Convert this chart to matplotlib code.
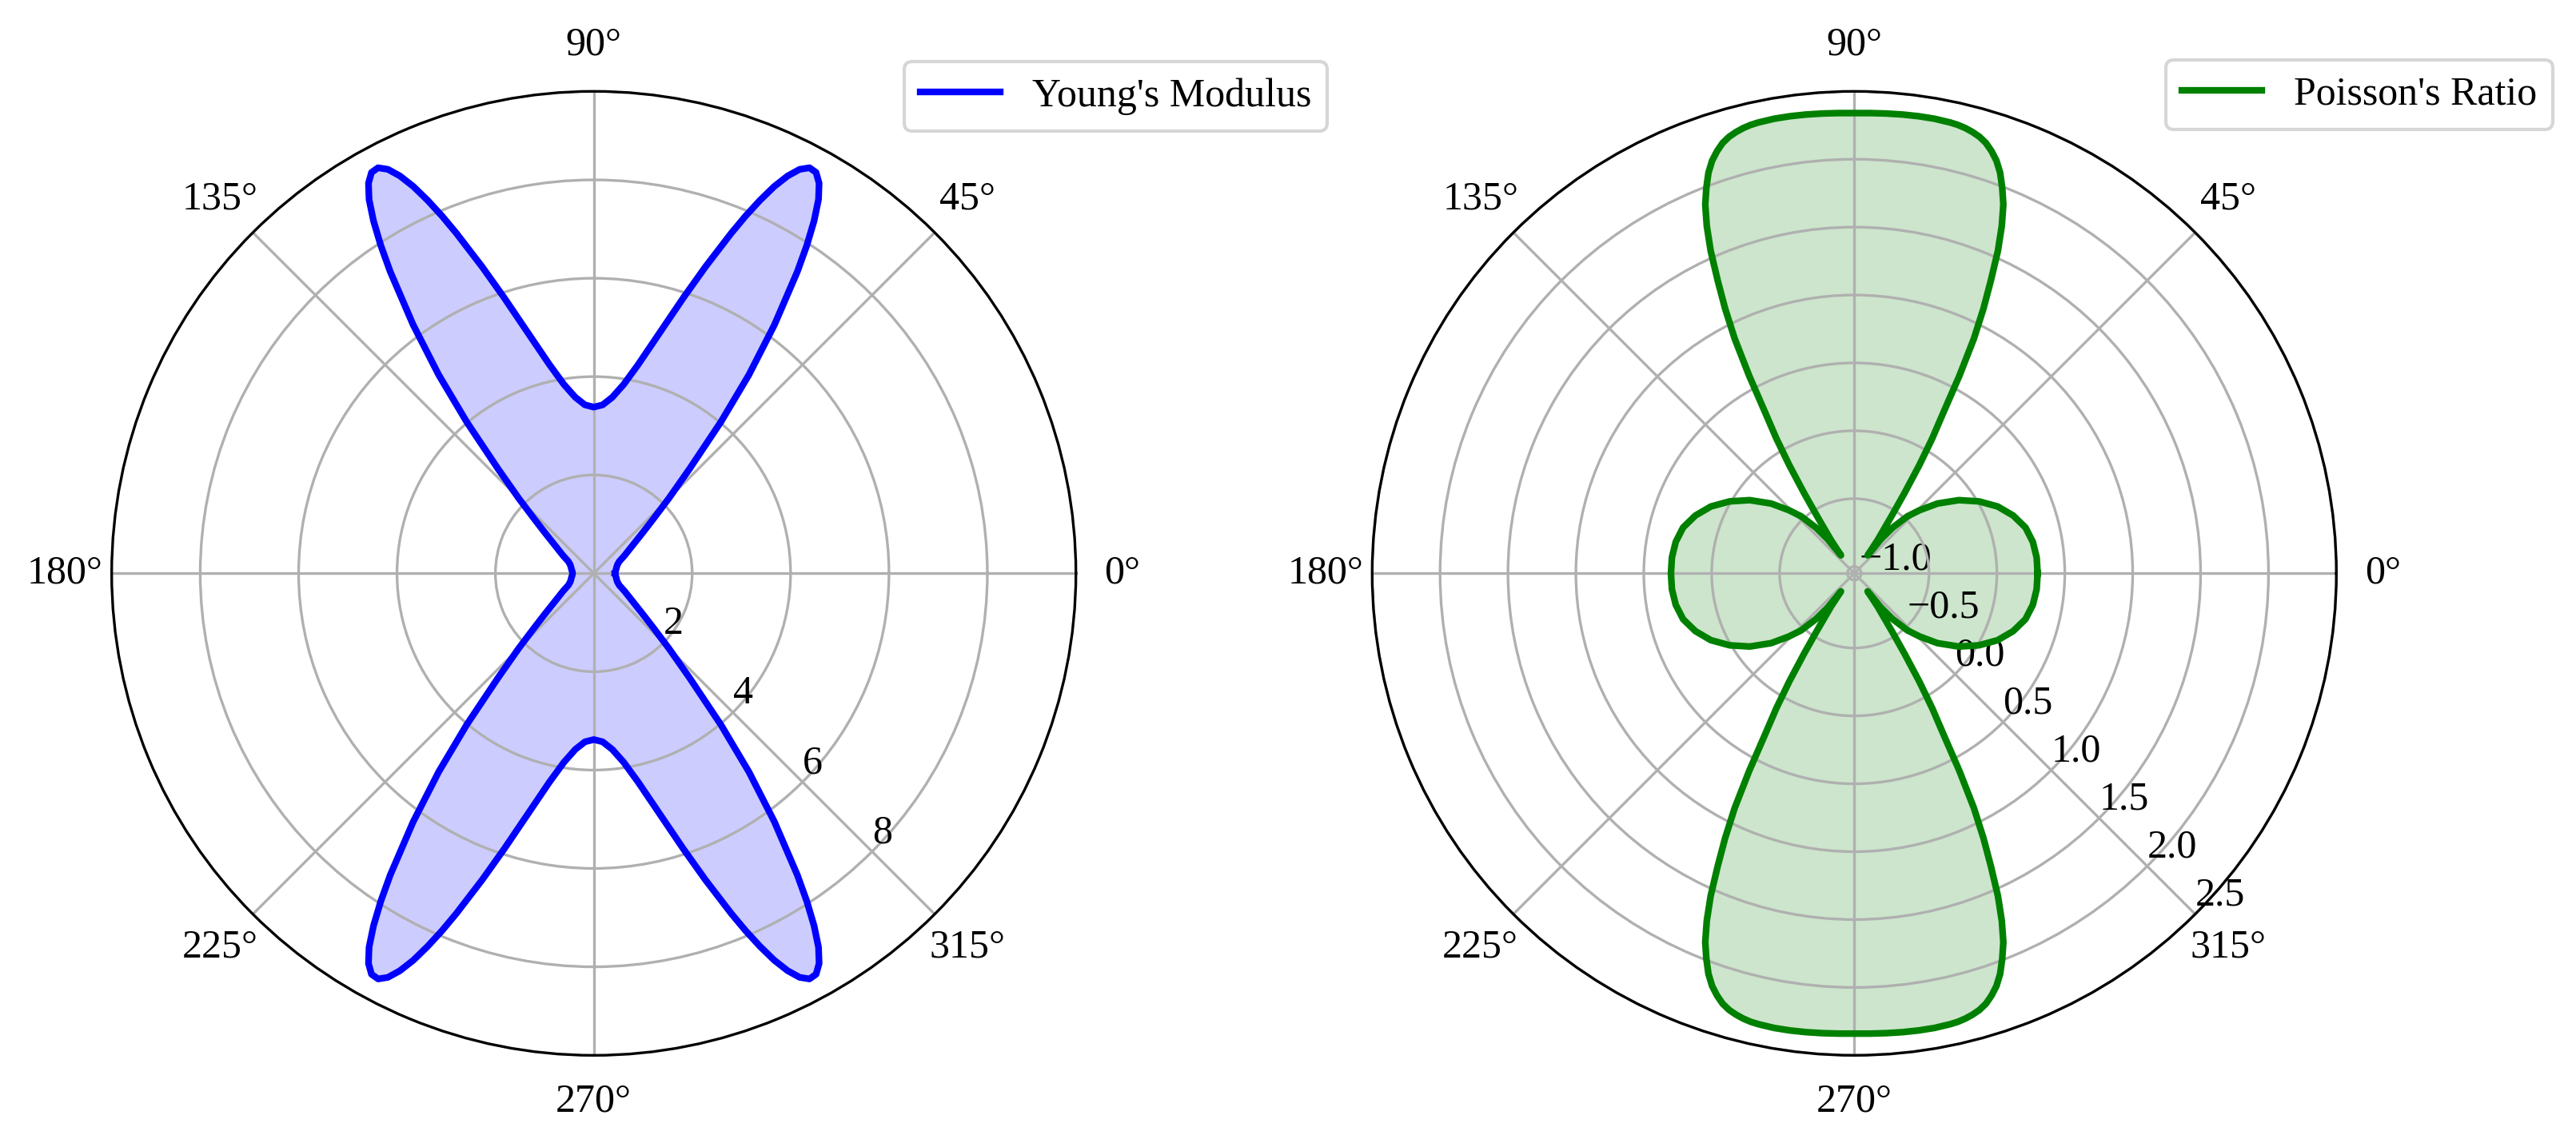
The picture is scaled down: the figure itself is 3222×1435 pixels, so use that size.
import numpy as np
import matplotlib
matplotlib.use("Agg")
import matplotlib.pyplot as plt

plt.rcParams['font.family'] = ['Liberation Serif', 'DejaVu Serif']
plt.rcParams['font.size'] = 12

# first quadrant readings (degrees), the curves are mirrored into the other quadrants
young_deg = [0, 5, 10, 15, 20, 25, 30, 35, 40, 42.5, 45, 47.5, 50, 52, 54, 56, 57, 58, 59, 60,
             61, 62, 63, 64, 65, 66, 67, 68, 70, 72, 75, 78, 81, 84, 87, 90]
young_vals = [0.43, 0.44, 0.46, 0.48, 0.51, 0.57, 0.72, 0.93, 1.32, 1.65, 2.16, 2.88, 4.02, 5.12,
              6.25, 7.40, 7.95, 8.45, 8.87, 9.16, 9.32, 9.34, 9.22, 8.99, 8.68, 8.30, 7.89, 7.46,
              6.63, 5.89, 4.99, 4.34, 3.89, 3.60, 3.43, 3.38]

poisson_deg = [0, 5, 10, 15, 20, 25, 30, 35, 40, 44, 47, 50, 52, 53.5, 55, 57, 58, 59, 60,
               61, 62, 63, 64, 65, 66, 67, 68, 69, 70, 71, 72, 73, 74, 75, 76, 77, 78,
               80, 82, 84, 86, 88, 90]
poisson_vals = [0.300, 0.298, 0.285, 0.255, 0.195, 0.115, 0.010, -0.110, -0.250, -0.380, -0.475,
                -0.610, -0.730, -0.885, -0.750, -0.540, -0.350, -0.120, 0.100,
                0.300, 0.600, 0.890, 1.120, 1.330, 1.550, 1.730, 1.880, 1.990, 2.090, 2.165,
                2.220, 2.265, 2.295, 2.315, 2.330, 2.340, 2.345,
                2.350, 2.350, 2.348, 2.345, 2.342, 2.340]


def full_turn(deg, vals):
    deg = np.asarray(deg, dtype=float)
    vals = np.asarray(vals, dtype=float)
    th = np.concatenate([deg, 180 - deg[::-1], 180 + deg, 360 - deg[::-1]])
    r = np.concatenate([vals, vals[::-1], vals, vals[::-1]])
    return np.deg2rad(th), r


W, H = 3222, 1435
fig = plt.figure(figsize=(W / 300, H / 300), dpi=300)

R = 603
ax1 = fig.add_axes([(742.7 - R) / W, (H - 717.3 - R) / H, 2 * R / W, 2 * R / H], projection='polar')
ax2 = fig.add_axes([(2319.3 - R) / W, (H - 717.3 - R) / H, 2 * R / W, 2 * R / H], projection='polar')

th, r = full_turn(young_deg, young_vals)
ax1.plot(th, r, color='blue', lw=2, label="Young's Modulus")
ax1.fill(th, r, color='blue', alpha=0.2)
ax1.set_ylim(0, 9.8)
ax1.set_rlabel_position(-45)
ax1.legend(loc='upper left', bbox_to_anchor=(1130.6 / W, 1 - 77.2 / H),
           bbox_transform=fig.transFigure, borderaxespad=0, fontsize=12)

th, r = full_turn(poisson_deg, poisson_vals)
ax2.plot(th, r, color='green', lw=2, label="Poisson's Ratio")
ax2.fill(th, r, color='green', alpha=0.2)
ax2.set_ylim(-1.05, 2.5)
ax2.set_rlabel_position(-45)
ax2.legend(loc='upper left', bbox_to_anchor=(2709 / W, 1 - 75 / H),
           bbox_transform=fig.transFigure, borderaxespad=0, fontsize=12)

fig.savefig("out.png", dpi=300)
